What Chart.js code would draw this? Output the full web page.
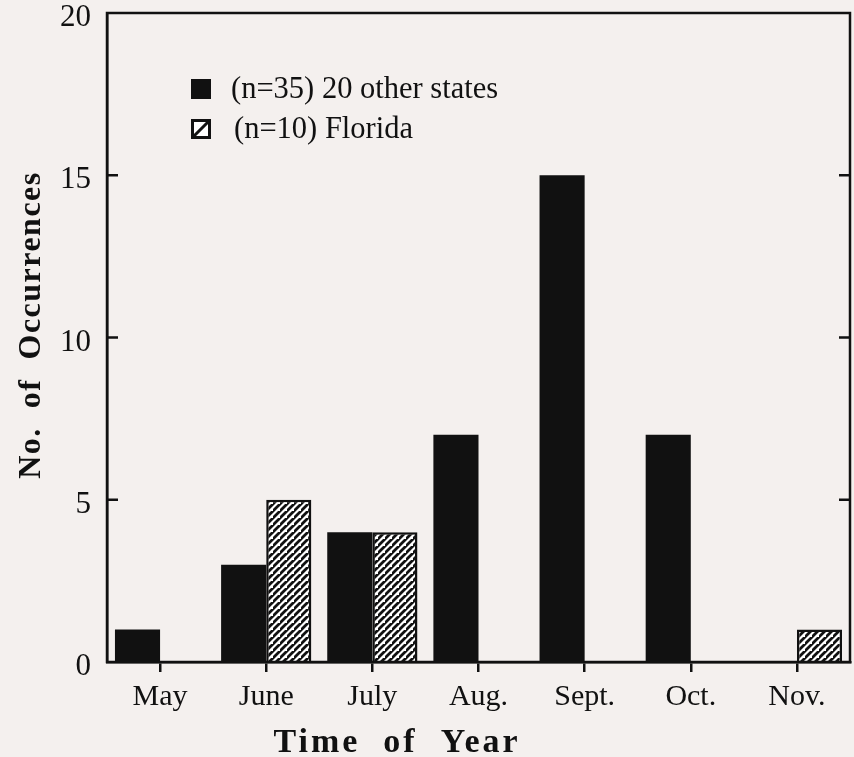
<!DOCTYPE html>
<html>
<head>
<meta charset="utf-8">
<script src="https://cdn.jsdelivr.net/npm/chart.js@4.4.1/dist/chart.umd.min.js"></script>
<style>
  html, body { margin: 0; padding: 0; background: #f4f0ee; }
  #wrap { width: 854px; height: 757px; position: relative; }
</style>
</head>
<body>
<div id="wrap"><canvas id="c" width="854" height="757"></canvas></div>
<script>
const months = ["May", "June", "July", "Aug.", "Sept.", "Oct.", "Nov."];
const otherStates = [1, 3, 4, 7, 15, 7, 0];
const florida = [0, 5, 4, 0, 0, 0, 1];
const otherLabel = "(n=35) 20 other states";
const floridaLabel = "(n=10) Florida";
const yTicks = [0, 5, 10, 15, 20];
const xTitle = "Time of Year";
const yTitle = "No. of Occurrences";

const SERIF = "'Liberation Serif', 'Times New Roman', serif";
const INK = "#111111";

function makeHatch() {
  const p = 7;
  const c = document.createElement("canvas");
  c.width = p; c.height = p;
  const g = c.getContext("2d");
  g.fillStyle = "#ffffff";
  g.fillRect(0, 0, p, p);
  g.strokeStyle = INK;
  g.lineWidth = 2.8;
  g.lineCap = "square";
  g.beginPath();
  g.moveTo(-1, p + 1); g.lineTo(p + 1, -1);
  g.moveTo(-p - 1, p + 1); g.lineTo(1, -1);
  g.moveTo(p - 1, 2 * p + 1); g.lineTo(2 * p + 1, p - 1);
  g.stroke();
  return g.createPattern(c, "repeat");
}
const hatch = makeHatch();

const decor = {
  id: "decor",
  beforeDraw(chart) {
    const ctx = chart.ctx;
    ctx.save();
    ctx.fillStyle = "#f4f0ee";
    ctx.fillRect(0, 0, chart.width, chart.height);
    ctx.restore();
  },
  afterDraw(chart) {
    const ctx = chart.ctx;
    const a = chart.chartArea;
    const y = chart.scales.y;
    ctx.save();
    // frame
    ctx.strokeStyle = INK;
    ctx.lineWidth = 2.5;
    ctx.strokeRect(a.left, a.top, a.right - a.left, a.bottom - a.top);
    // inward y ticks both sides
    yTicks.forEach(v => {
      if (v === 0 || v === 20) return;
      const py = y.getPixelForValue(v);
      ctx.beginPath();
      ctx.moveTo(a.left, py); ctx.lineTo(a.left + 11, py);
      ctx.moveTo(a.right, py); ctx.lineTo(a.right - 11, py);
      ctx.stroke();
    });
    // legend
    const items = chart.data.datasets;
    const lx = 191, ly = [79, 119], sz = 20;
    items.forEach((ds, i) => {
      if (i === 0) {
        ctx.fillStyle = INK;
        ctx.fillRect(lx, ly[i], sz, sz);
      } else {
        ctx.fillStyle = INK;
        ctx.fillRect(lx, ly[i], sz, sz);
        ctx.fillStyle = "#ffffff";
        ctx.fillRect(lx + 3, ly[i] + 3, sz - 6, sz - 6);
        ctx.strokeStyle = INK;
        ctx.lineWidth = 3;
        ctx.beginPath();
        ctx.moveTo(lx + 3, ly[i] + sz - 3); ctx.lineTo(lx + sz - 3, ly[i] + 3);
        ctx.stroke();
      }
      ctx.fillStyle = INK;
      ctx.font = "30.5px " + SERIF;
      ctx.textBaseline = "middle";
      ctx.textAlign = "left";
      ctx.fillText(ds.label, 231 + (i === 1 ? 3 : 0), ly[i] + sz / 2 + 1);
    });
    // axis titles
    ctx.fillStyle = INK;
    ctx.textAlign = "center";
    ctx.textBaseline = "alphabetic";
    ctx.font = "bold 34px " + SERIF;
    try { ctx.letterSpacing = "3px"; } catch (e) {}
    ctx.fillText(xTitle.replace(/ /g, "  "), 397, 752);
    ctx.font = "bold 32px " + SERIF;
    try { ctx.letterSpacing = "1.5px"; } catch (e) {}
    ctx.translate(40, 325);
    ctx.rotate(-Math.PI / 2);
    ctx.fillText(yTitle.replace(/ /g, "  "), 0, 0);
    ctx.restore();
  }
};

new Chart(document.getElementById("c"), {
  type: "bar",
  data: {
    labels: months,
    datasets: [
      { label: otherLabel, data: otherStates, backgroundColor: INK, borderColor: INK, borderWidth: 0 },
      { label: floridaLabel, data: florida, backgroundColor: hatch, borderColor: INK, borderWidth: 2.5 }
    ]
  },
  options: {
    responsive: false,
    animation: false,
    devicePixelRatio: 1,
    layout: { padding: { top: 13, right: 4, left: 0, bottom: 0 } },
    datasets: { bar: { categoryPercentage: 0.85, barPercentage: 1.0, skipNull: false } },
    plugins: { legend: { display: false }, tooltip: { enabled: false } },
    scales: {
      x: {
        grid: { display: true, drawOnChartArea: false, offset: false, tickLength: 10, color: INK, lineWidth: 2.5 },
        border: { display: true, color: INK, width: 2.5 },
        ticks: { color: INK, font: { family: SERIF, size: 30 }, padding: 7 },
        afterFit(s) { s.height = 95; s.paddingLeft = 0; s.paddingRight = 0; }
      },
      y: {
        min: 0, max: 20,
        grid: { display: false },
        border: { display: true, color: INK, width: 2.5 },
        ticks: { stepSize: 5, color: INK, font: { family: SERIF, size: 31 }, padding: 8, labelOffset: 5 },
        afterFit(s) { s.width = 107; s.paddingTop = 0; s.paddingBottom = 0; }
      }
    }
  },
  plugins: [decor]
});
</script>
</body>
</html>
